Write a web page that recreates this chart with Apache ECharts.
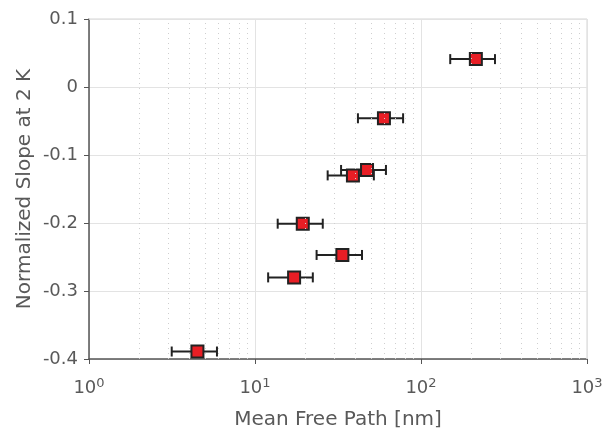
<!DOCTYPE html>
<html>
<head>
<meta charset="utf-8">
<script src="https://cdn.jsdelivr.net/npm/echarts@6/dist/echarts.min.js"></script>
<style>
  html, body { margin: 0; padding: 0; background: #fff; }
  #chart { width: 612px; height: 435px; }
</style>
</head>
<body>
<div id="chart"></div>
<script>
// 数据：平均自由程（nm）与 2 K 处归一化斜率
const mfp      = [4.5, 17.2, 33.6, 19.4, 38.9, 47.3, 59.8, 214];
const slope    = [-0.389, -0.280, -0.247, -0.201, -0.130, -0.122, -0.046, 0.041];
const errLow   = [3.15, 12.0, 23.5, 13.7, 27.4, 33.0, 41.7, 150];
const errHigh  = [5.9, 22.3, 44.1, 25.6, 52.0, 61.5, 78.0, 279];

// 对数轴次刻度（2..9 × 10^n）
const minorTicks = [];
[1, 10, 100].forEach(d => { for (let k = 2; k <= 9; k++) minorTicks.push(k * d); });

const font = 'DejaVu Sans';
const textColor = '#595959';
const supMap = { 1: '0', 10: '1', 100: '2', 1000: '3' };

const points = mfp.map((x, i) => [x, slope[i]]);
const bars = mfp.map((x, i) => [errLow[i], errHigh[i], slope[i]]);

const chart = echarts.init(document.getElementById('chart'));
chart.setOption({
  animation: false,
  grid: { left: 89, right: 25, top: 19, bottom: 74 },
  xAxis: {
    type: 'log',
    logBase: 10,
    min: 1,
    max: 1000,
    name: 'Mean Free Path [nm]',
    nameLocation: 'middle',
    nameGap: 51,
    nameTextStyle: { fontFamily: font, fontSize: 20, color: textColor },
    axisLine: { show: true, onZero: false, lineStyle: { color: '#555', width: 1.5 } },
    axisTick: { show: true, inside: false, length: 5, lineStyle: { color: '#555' } },
    axisLabel: {
      margin: 18,
      formatter: v => '{b|10}{s|' + (supMap[Math.round(v)] || '') + '}',
      rich: {
        b: { fontFamily: font, fontSize: 18, color: textColor },
        s: { fontFamily: font, fontSize: 13, color: textColor, verticalAlign: 'top', padding: [0, 0, 10, 0] }
      }
    },
    splitLine: { show: true, lineStyle: { color: '#e3e3e3', width: 1 } }
  },
  yAxis: {
    type: 'value',
    min: -0.4,
    max: 0.1,
    interval: 0.1,
    name: 'Normalized Slope at 2 K',
    nameLocation: 'middle',
    nameGap: 54,
    nameMoveOverlap: false,
    nameTextStyle: { fontFamily: font, fontSize: 20, color: textColor },
    axisLine: { show: true, lineStyle: { color: '#555', width: 1.5 } },
    axisTick: { show: true, length: 5, lineStyle: { color: '#555' } },
    axisLabel: {
      margin: 11,
      fontFamily: font, fontSize: 18, color: textColor,
      formatter: v => { const r = Math.round(v * 10) / 10; return r === 0 ? '0' : String(r); }
    },
    splitLine: { show: true, lineStyle: { color: '#e3e3e3', width: 1 } }
  },
  series: [
    {
      // 次网格线
      type: 'line',
      data: [],
      silent: true,
      markLine: {
        silent: true,
        symbol: 'none',
        label: { show: false },
        lineStyle: { color: '#cfcfcf', type: [1, 4], width: 1 },
        data: minorTicks.map(v => ({ xAxis: v }))
      }
    },
    {
      // 上/右边框
      type: 'line',
      data: [],
      silent: true,
      markLine: {
        silent: true,
        symbol: 'none',
        label: { show: false },
        lineStyle: { color: '#e3e3e3', type: 'solid', width: 1.5 },
        data: [{ xAxis: 1000 }, { yAxis: 0.1 }]
      }
    },
    {
      // 水平误差棒
      type: 'custom',
      data: bars,
      renderItem: (params, api) => {
        const y = api.value(2);
        const p1 = api.coord([api.value(0), y]);
        const p2 = api.coord([api.value(1), y]);
        const h = 5;
        const style = { stroke: '#222', lineWidth: 2 };
        return {
          type: 'group',
          children: [
            { type: 'line', shape: { x1: p1[0], y1: p1[1], x2: p2[0], y2: p2[1] }, style },
            { type: 'line', shape: { x1: p1[0], y1: p1[1] - h, x2: p1[0], y2: p1[1] + h }, style },
            { type: 'line', shape: { x1: p2[0], y1: p2[1] - h, x2: p2[0], y2: p2[1] + h }, style }
          ]
        };
      },
      encode: { x: [0, 1], y: 2 },
      z: 3
    },
    {
      type: 'scatter',
      data: points,
      symbol: 'rect',
      symbolSize: 12,
      itemStyle: { color: '#e81e25', borderColor: '#222', borderWidth: 2, opacity: 1 },
      z: 4
    }
  ]
});
</script>
</body>
</html>
